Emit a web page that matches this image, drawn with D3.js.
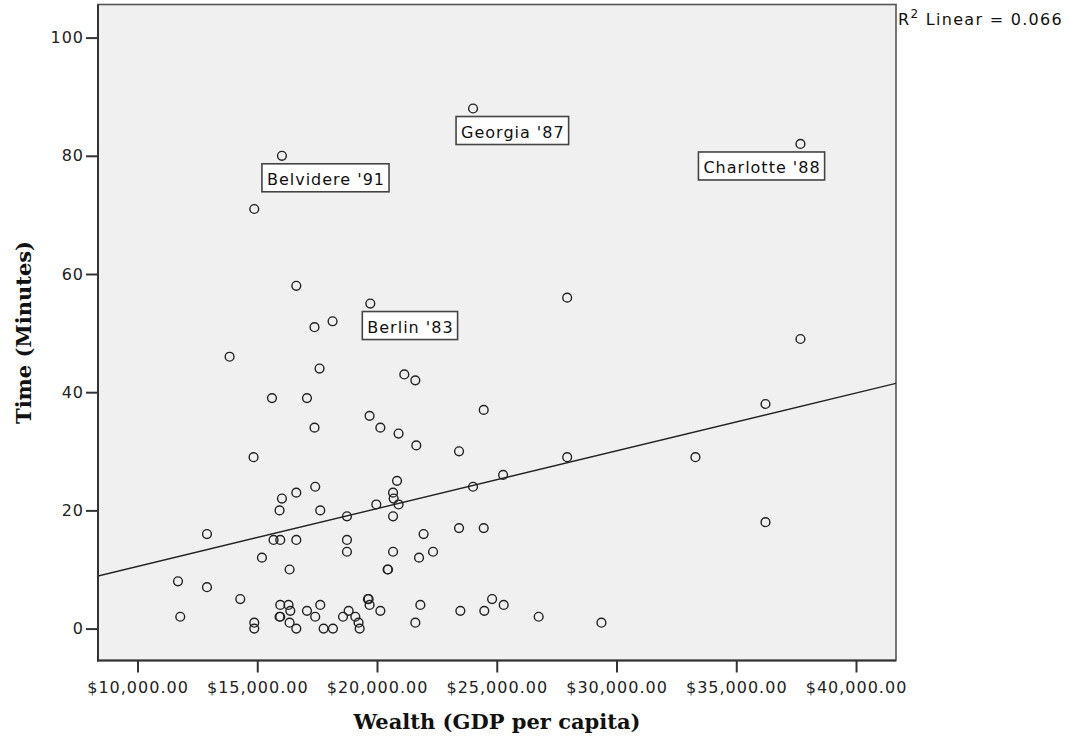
<!DOCTYPE html>
<html>
<head>
<meta charset="utf-8">
<script src="https://cdn.jsdelivr.net/npm/d3@7"></script>
<style>
  body { margin: 0; background: #fff; }
  svg { display: block; }
  .tick text { font-family: "DejaVu Sans", sans-serif; font-size: 16px; letter-spacing: 1px; fill: #222; }
  .title { font-family: "DejaVu Serif", serif; font-weight: bold; font-size: 21px; fill: #111; }
  .lbl { font-family: "DejaVu Sans", sans-serif; font-size: 16px; letter-spacing: 1px; fill: #111; }
</style>
</head>
<body>
<svg id="chart"></svg>
<script>
// wealth (GDP per capita) and time (minutes) for each case
const wealth = [
  24010, 37680, 16030, 14875, 27940, 37680,
  16630, 19720, 17390, 18145, 13845, 17600, 21140, 21600, 15615, 17075,
  19690, 20140, 20900, 21640, 17390, 14845, 20835, 24455, 23425, 27940,
  33295, 36220, 36220, 16030, 16630, 17420, 15930, 17630, 18745, 19970,
  20670, 20695, 20900, 20670, 24010, 25265, 23425, 24455, 21945, 22340,
  21755, 15680, 15960, 16630, 18745, 18745, 20670, 15195, 16350, 20440,
  20460, 12900, 11690, 12900, 11785, 14290, 14875, 14875, 15960, 16305,
  15930, 15960, 16380, 16350, 16630, 17075, 17420, 17630, 17770, 18160,
  18580, 18815, 19095, 19230, 19275, 19650, 19620, 19690, 20140, 21810,
  21600, 23480, 24480, 24805, 25290, 26750, 29370
];
const minutes = [
  88, 82, 80, 71, 56, 49,
  58, 55, 51, 52, 46, 44, 43, 42, 39, 39,
  36, 34, 33, 31, 34, 29, 25, 37, 30, 29,
  29, 38, 18, 22, 23, 24, 20, 20, 19, 21,
  23, 22, 21, 19, 24, 26, 17, 17, 16, 13,
  12, 15, 15, 15, 15, 13, 13, 12, 10, 10,
  10, 16, 8, 7, 2, 5, 1, 0, 4, 4,
  2, 2, 3, 1, 0, 3, 2, 4, 0, 0,
  2, 3, 2, 1, 0, 5, 5, 4, 3, 4,
  1, 3, 3, 5, 4, 2, 1
];
// labelled cases (index into the arrays above)
const labelNames = ["Georgia '87", "Charlotte '88", "Belvidere '91", "Berlin '83"];
const labelIndex = [0, 1, 2, 7];
// fitted linear line (end points) and R squared
const fitWealth = [8350, 41670];
const fitMinutes = [8.9, 41.5];
const rSquared = "0.066";

const xTicks = [10000, 15000, 20000, 25000, 30000, 35000, 40000];
const yTicks = [0, 20, 40, 60, 80, 100];
const xDomain = [8350, 41670];
const yDomain = [-5.4, 105.6];

// layout
const W = 1070, H = 742;
const plot = { left: 98, right: 896, top: 4.5, bottom: 660.5 };
const labelDx = [-17, -102, -20, -8];

const svg = d3.select('#chart').attr('width', W).attr('height', H);

const x = d3.scaleLinear().domain(xDomain).range([plot.left, plot.right]);
const y = d3.scaleLinear().domain(yDomain).range([plot.bottom, plot.top]);

svg.append('rect')
  .attr('x', plot.left).attr('y', plot.top)
  .attr('width', plot.right - plot.left).attr('height', plot.bottom - plot.top)
  .attr('fill', '#f0f0f0')
  .attr('stroke', '#555').attr('stroke-width', 1.6);

// regression line, clipped to the plot
svg.append('clipPath').attr('id', 'clip').append('rect')
  .attr('x', plot.left).attr('y', plot.top)
  .attr('width', plot.right - plot.left).attr('height', plot.bottom - plot.top);

svg.append('line')
  .attr('clip-path', 'url(#clip)')
  .attr('x1', x(fitWealth[0])).attr('y1', y(fitMinutes[0]))
  .attr('x2', x(fitWealth[1])).attr('y2', y(fitMinutes[1]))
  .attr('stroke', '#222').attr('stroke-width', 1.4);

// axes
const xAxis = svg.append('g')
  .attr('transform', `translate(0,${plot.bottom})`)
  .call(d3.axisBottom(x).tickValues(xTicks).tickSize(12).tickPadding(6).tickFormat(d3.format('$,.2f')));
const yAxis = svg.append('g')
  .attr('transform', `translate(${plot.left},0)`)
  .call(d3.axisLeft(y).tickValues(yTicks).tickSize(12).tickPadding(2));
[xAxis, yAxis].forEach(g => {
  g.select('.domain').remove();
  g.selectAll('.tick line').attr('stroke', '#333').attr('stroke-width', 2);
});
xAxis.selectAll('.tick text').attr('dy', '0.9em');

// left and bottom axis lines, darker than the frame
svg.append('line')
  .attr('x1', plot.left).attr('x2', plot.left).attr('y1', plot.top).attr('y2', plot.bottom + 1)
  .attr('stroke', '#333').attr('stroke-width', 2);
svg.append('line')
  .attr('x1', plot.left - 1).attr('x2', plot.right).attr('y1', plot.bottom).attr('y2', plot.bottom)
  .attr('stroke', '#333').attr('stroke-width', 2);

// points
svg.append('g').selectAll('circle')
  .data(wealth.map((w, i) => ({ w: w, m: minutes[i] })))
  .join('circle')
  .attr('cx', d => x(d.w))
  .attr('cy', d => y(d.m))
  .attr('r', 4.4)
  .attr('fill', 'none')
  .attr('stroke', '#222')
  .attr('stroke-width', 1.4);

// case labels
labelNames.forEach((name, k) => {
  const i = labelIndex[k];
  const bx = x(wealth[i]) + labelDx[k];
  const by = y(minutes[i]) + 8;
  const g = svg.append('g');
  const box = g.append('rect');
  const t = g.append('text').attr('class', 'lbl')
    .attr('x', bx + 5).attr('y', by + 21).text(name);
  const tw = t.node().getComputedTextLength();
  box.attr('x', bx).attr('y', by).attr('width', tw + 9).attr('height', 28)
    .attr('fill', '#fff').attr('stroke', '#444').attr('stroke-width', 1.6);
});

// R squared note
const r2 = svg.append('text').attr('class', 'lbl').attr('x', 898).attr('y', 25)
  .style('letter-spacing', '1.3px');
r2.append('tspan').text('R');
r2.append('tspan').attr('dy', -7).attr('font-size', 12).text('2');
r2.append('tspan').attr('dy', 7).text(' Linear = ' + rSquared);

// axis titles
svg.append('text').attr('class', 'title')
  .attr('x', (plot.left + plot.right) / 2).attr('y', 729)
  .attr('text-anchor', 'middle').text('Wealth (GDP per capita)');
svg.append('text').attr('class', 'title')
  .attr('transform', `translate(31,${(plot.top + plot.bottom) / 2}) rotate(-90)`)
  .attr('text-anchor', 'middle').text('Time (Minutes)');
</script>
</body>
</html>
